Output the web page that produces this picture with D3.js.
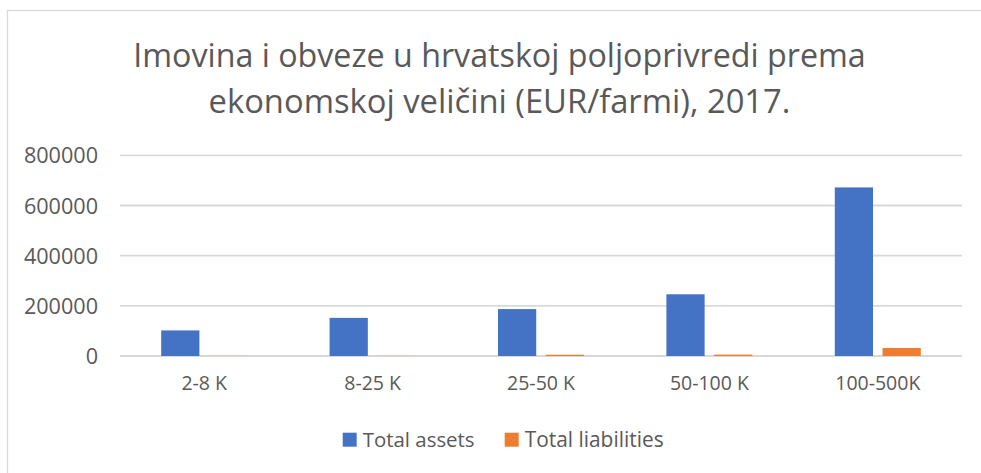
<html>
<head>
	<meta charset="utf-8">
	<script src="https://d3js.org/d3.v7.min.js"></script>
	<style>
		body { margin: 0; background: #fff; }
		text { font-family: "Open Sans", "Noto Sans", sans-serif; fill: #595959; }
	</style>
</head>
<body>
	<div id="chart"></div>

	<script type="text/javascript">

		var title = ["Imovina i obveze u hrvatskoj poljoprivredi prema", "ekonomskoj veličini (EUR/farmi), 2017."];
		var categories = ["2-8 K", "8-25 K", "25-50 K", "50-100 K", "100-500K"];
		var seriesNames = ["Total assets", "Total liabilities"];
		var totalAssets = [102000, 152000, 187000, 246000, 672000];
		var totalLiabilities = [400, 500, 5000, 5500, 32000];
		var yTicks = [0, 200000, 400000, 600000, 800000];
		var colors = ["#4472C4", "#ED7D31"];

		var width = 981, height = 473;
		var plot = {left: 120, right: 962, top: 155.3, bottom: 356};

		var svg = d3.select('#chart')
					.append('svg')
						.attr('width', width)
						.attr('height', height);

		// chart area frame (cut off at the right and bottom)
		svg.append('rect')
			.attr('x', 7.5).attr('y', 10.5)
			.attr('width', 1000).attr('height', 500)
			.attr('fill', '#fff')
			.attr('stroke', '#d9d9d9')
			.attr('stroke-width', 1.3);

		// fit a text element to a width
		function fit(el, size, target) {
			el.style('font-size', size + 'px');
			var w = el.node().getComputedTextLength();
			el.style('font-size', (size * target / w) + 'px');
		}

		// title
		var titleWidths = [733, 582];
		var titleBase = [67, 113];
		title.forEach(function(t, i) {
			var el = svg.append('text')
				.attr('x', 499.5).attr('y', titleBase[i])
				.attr('text-anchor', 'middle')
				.text(t);
			fit(el, 30, titleWidths[i]);
		});

		var x0 = d3.scaleBand()
			.domain(categories)
			.range([plot.left, plot.right])
			.padding(0);

		var x1 = d3.scaleBand()
			.domain(seriesNames)
			.range([x0.bandwidth() / 2 - 43, x0.bandwidth() / 2 + 43])
			.paddingInner(0.2);

		var y = d3.scaleLinear()
			.domain([0, 800000])
			.range([plot.bottom, plot.top]);

		// gridlines
		svg.append('g')
			.selectAll('line')
			.data(yTicks)
			.enter()
			.append('line')
				.attr('x1', plot.left).attr('x2', plot.right)
				.attr('y1', (d) => y(d)).attr('y2', (d) => y(d))
				.attr('stroke', '#d9d9d9')
				.attr('stroke-width', 1.8);

		// y axis labels
		var yAxis = svg.append('g')
			.attr('transform', 'translate(' + (plot.left - 22) + ',0)')
			.call(d3.axisLeft(y).tickValues(yTicks).tickSize(0).tickPadding(0).tickFormat(d3.format('d')));
		yAxis.select('.domain').remove();
		yAxis.selectAll('text')
			.style('font-size', '21.6px')
			.style('fill', '#595959')
			.attr('dy', '0.35em');

		// x axis labels
		var xAxis = svg.append('g')
			.attr('transform', 'translate(0,' + plot.bottom + ')')
			.call(d3.axisBottom(x0).tickSize(0).tickPadding(20));
		xAxis.select('.domain').remove();
		xAxis.selectAll('text')
			.style('font-size', '19.5px')
			.style('fill', '#595959');

		// bars
		var rows = categories.map((c, i) => ({cat: c, values: [totalAssets[i], totalLiabilities[i]]}));

		var groups = svg.append('g')
			.selectAll('g')
			.data(rows)
			.enter()
			.append('g')
				.attr('transform', (d) => 'translate(' + x0(d.cat) + ',0)');

		groups.selectAll('rect')
			.data((d) => d.values.map((v, j) => ({name: seriesNames[j], value: v, j: j})))
			.enter()
			.append('rect')
				.attr('x', (d) => x1(d.name))
				.attr('width', x1.bandwidth())
				.attr('y', (d) => y(d.value))
				.attr('height', (d) => y(0) - y(d.value))
				.attr('fill', (d) => colors[d.j]);

		// legend
		var legend = svg.append('g');
		var lx = 342.7;
		var legendWidths = [112, 139];
		seriesNames.forEach(function(name, i) {
			legend.append('rect')
				.attr('x', lx).attr('y', 432.7)
				.attr('width', 14).attr('height', 14)
				.attr('fill', colors[i]);
			var t = legend.append('text')
				.attr('x', lx + 20).attr('y', 446.5)
				.text(name);
			fit(t, 19, legendWidths[i]);
			lx = lx + 20 + legendWidths[i] + 30;
		});

	</script>

</body>
</html>
